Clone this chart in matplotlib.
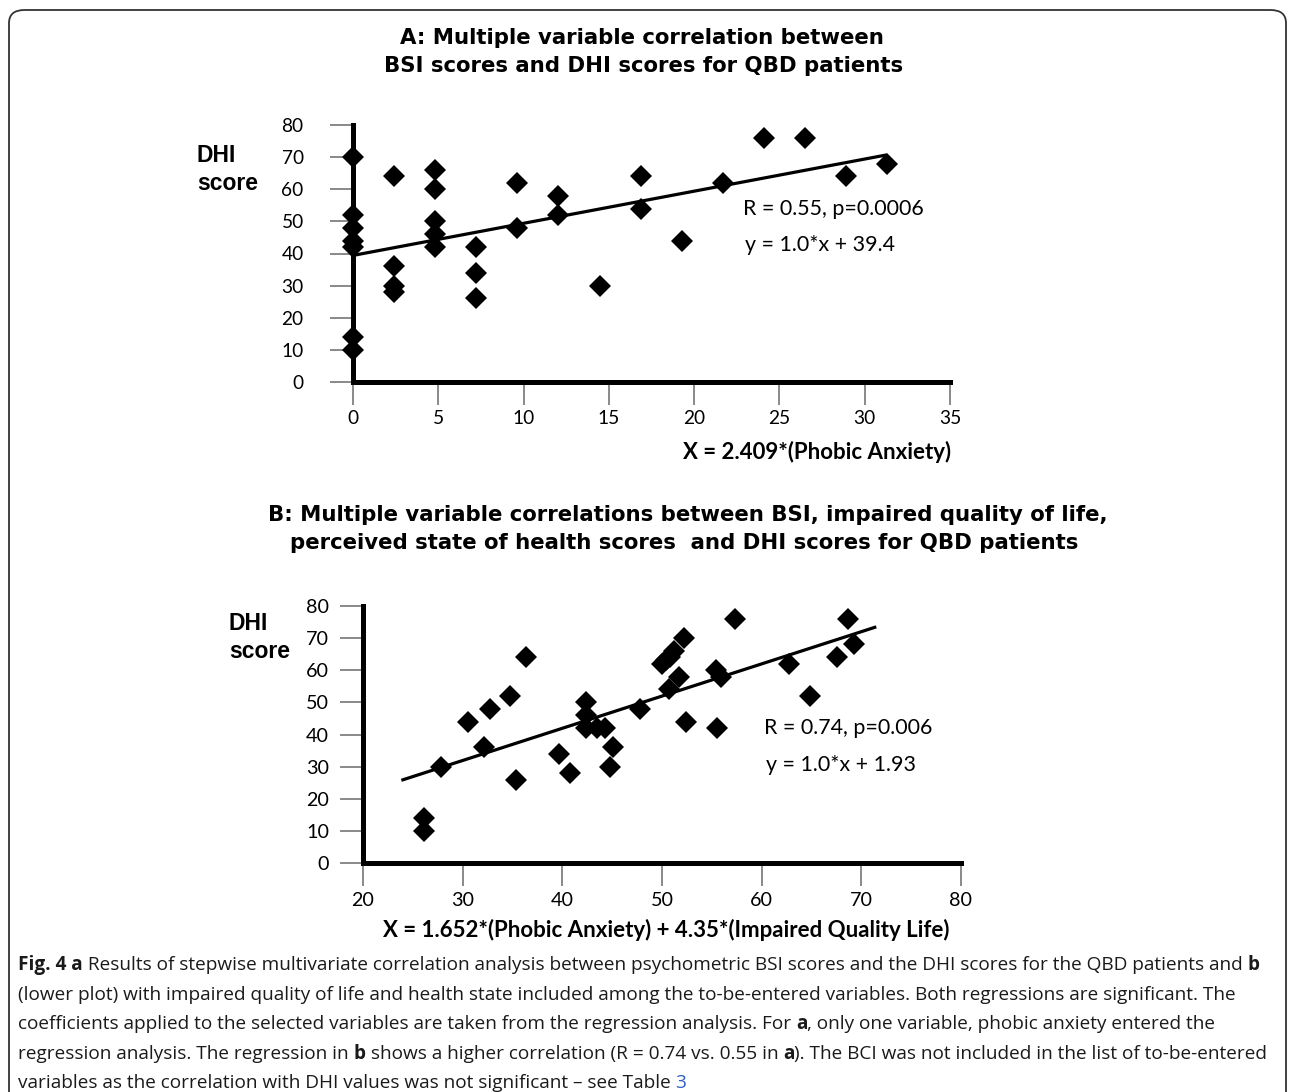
import matplotlib
matplotlib.use("Agg")
import matplotlib.pyplot as plt
from matplotlib.patches import FancyBboxPatch

W, H = 1290, 1092

# ---------------- data ----------------
# Panel A: X = 2.409*(Phobic Anxiety)
a_x = [0, 0, 0, 0, 0, 0, 0,
       2.4, 2.4, 2.4, 2.4,
       4.8, 4.8, 4.8, 4.8, 4.8,
       7.2, 7.2, 7.2,
       9.6, 9.6,
       12.0, 12.0,
       14.5,
       16.9, 16.9,
       19.3,
       21.7,
       24.1,
       26.5,
       28.9,
       31.3]
a_y = [70, 52, 48, 44, 42, 14, 10,
       64, 36, 30, 28,
       66, 60, 50, 46, 42,
       42, 34, 26,
       62, 48,
       58, 52,
       30,
       64, 54,
       44,
       62,
       76,
       76,
       64,
       68]
a_fit_slope, a_fit_intercept = 1.0, 39.4
a_fit_range = [0, 31.3]

# Panel B: X = 1.652*(Phobic Anxiety) + 4.35*(Impaired Quality Life)
b_x = [26.1, 26.1, 27.8, 30.5, 32.1, 32.7, 34.7, 35.4, 36.4, 39.7, 40.8,
       42.4, 42.4, 42.4, 43.5, 44.3, 45.1, 44.8, 47.8,
       50.0, 50.4, 50.8, 51.2, 52.2, 51.7, 50.7, 52.4,
       57.3, 55.4, 55.9, 55.5, 62.7, 64.8, 67.6, 68.7, 69.3]
b_y = [14, 10, 30, 44, 36, 48, 52, 26, 64, 34, 28,
       50, 46, 42, 42, 42, 36, 30, 48,
       62, 63, 64, 66, 70, 58, 54, 44,
       76, 60, 58, 42, 62, 52, 64, 76, 68]
b_fit_slope, b_fit_intercept = 1.0, 1.93
b_fit_range = [23.85, 71.5]

a_xticks = [0, 5, 10, 15, 20, 25, 30, 35]
b_xticks = [20, 30, 40, 50, 60, 70, 80]
yticks = [0, 10, 20, 30, 40, 50, 60, 70, 80]

title_a = ["A: Multiple variable correlation between",
           "BSI scores and DHI scores for QBD patients"]
title_b = ["B: Multiple variable correlations between BSI, impaired quality of life,",
           "perceived state of health scores  and DHI scores for QBD patients"]
xlabel_a = "X = 2.409*(Phobic Anxiety)"
xlabel_b = "X = 1.652*(Phobic Anxiety) + 4.35*(Impaired Quality Life)"
stats_a = ["R = 0.55, p=0.0006", "y = 1.0*x + 39.4"]
stats_b = ["R = 0.74, p=0.006", "y = 1.0*x + 1.93"]

# caption segments: (text, style) with style n=normal, b=bold, l=link
caption = [
    [("Fig. 4 a", "b"), (" Results of stepwise multivariate correlation analysis between psychometric BSI scores and the DHI scores for the QBD patients and ", "n"), ("b", "b")],
    [("(lower plot) with impaired quality of life and health state included among the to-be-entered variables. Both regressions are significant. The", "n")],
    [("coefficients applied to the selected variables are taken from the regression analysis. For ", "n"), ("a", "b"), (", only one variable, phobic anxiety entered the", "n")],
    [("regression analysis. The regression in ", "n"), ("b", "b"), (" shows a higher correlation (R = 0.74 vs. 0.55 in ", "n"), ("a", "b"), ("). The BCI was not included in the list of to-be-entered", "n")],
    [("variables as the correlation with DHI values was not significant – see Table ", "n"), ("3", "l")],
]

# ---------------- figure ----------------
fig = plt.figure(figsize=(W / 100, H / 100), dpi=100)


def fx(x):
    return x / W


def fy(y):
    return 1 - y / H


# rounded frame
frame = FancyBboxPatch((fx(9), fy(1130)), fx(1286 - 9), (1130 - 10) / H,
                       boxstyle="round,pad=0,rounding_size=0.012",
                       transform=fig.transFigure, fill=False,
                       edgecolor="#333333", linewidth=1.3)
fig.patches.append(frame)


def make_axes(rect, xlim, xticks, pad_y):
    ax = fig.add_axes(rect)
    ax.set_xlim(*xlim)
    ax.set_ylim(0, 80)
    for s in ("top", "right"):
        ax.spines[s].set_visible(False)
    for s in ("left", "bottom"):
        ax.spines[s].set_linewidth(3.6)
        ax.spines[s].set_color("black")
        ax.spines[s].set_zorder(2)
    ax.set_xticks(xticks)
    ax.set_yticks(yticks)
    ax.tick_params(axis="both", direction="out", length=16.5, width=1.3,
                   color="#808080", labelcolor="black")
    ax.tick_params(axis="y", pad=pad_y)
    ax.tick_params(axis="x", pad=4)
    ax.patch.set_alpha(0)
    return ax


ax_a = make_axes([fx(353), fy(382), 597 / W, 257 / H], (0, 35), a_xticks, 19)
ax_b = make_axes([fx(363), fy(863.3), 598 / W, 257.6 / H], (20, 80), b_xticks, 8)

for lab in ax_a.get_xticklabels() + ax_a.get_yticklabels():
    lab.set_fontfamily("Lato")
    lab.set_fontsize(13.8)
for lab in ax_b.get_xticklabels() + ax_b.get_yticklabels():
    lab.set_fontfamily("Lato")
    lab.set_fontsize(14.2)

for ax, xs, ys, slope, icpt, rng in (
        (ax_a, a_x, a_y, a_fit_slope, a_fit_intercept, a_fit_range),
        (ax_b, b_x, b_y, b_fit_slope, b_fit_intercept, b_fit_range)):
    ax.plot(rng, [slope * v + icpt for v in rng], color="black", lw=2.3,
            solid_capstyle="butt", zorder=3)
    ax.plot(xs, ys, linestyle="none", marker="D", ms=11, color="black",
            markeredgewidth=0, clip_on=False, zorder=4)

# titles
tfont = dict(family="DejaVu Sans", weight="bold", fontsize=15.3,
             ha="center", va="center", color="black")
fig.text(fx(642), fy(38), title_a[0], **tfont)
fig.text(fx(644), fy(66), title_a[1], **tfont)
fig.text(fx(688), fy(515), title_b[0], **tfont)
fig.text(fx(684), fy(543), title_b[1], **tfont)

# DHI score labels
lfont = dict(family="Liberation Sans", weight="bold", fontsize=16.5,
             ha="left", va="center", color="black")
fig.text(fx(197), fy(156), "DHI", **lfont)
fig.text(fx(197), fy(183), "score", **lfont)
fig.text(fx(229), fy(623), "DHI", **lfont)
fig.text(fx(229), fy(651), "score", **lfont)

# x labels
xfont = dict(family="Lato", weight="bold", fontsize=16, va="center",
             color="black")
fig.text(fx(951), fy(452), xlabel_a, ha="right", **xfont)
fig.text(fx(666), fy(930), xlabel_b, ha="center", **xfont)

# stats
sfont = dict(family="Lato", fontsize=15.4, ha="left", va="center",
             color="black")
fig.text(fx(743), fy(209), stats_a[0], **sfont)
fig.text(fx(745), fy(245), stats_a[1], **sfont)
fig.text(fx(764), fy(728), stats_b[0], **sfont)
fig.text(fx(766), fy(765), stats_b[1], **sfont)

# caption
cap_size = 13.7
cap_y = [965, 995, 1024, 1054, 1083]
fig.canvas.draw()
renderer = fig.canvas.get_renderer()


def seg_props(style):
    d = dict(family="Open Sans", fontsize=cap_size, ha="left",
             va="center", color="#1a1a1a")
    if style == "b":
        d["weight"] = "bold"
    if style == "l":
        d["color"] = "#2f5fc4"
    return d


def text_width(s, props):
    t1 = fig.text(0, 0, s + "|", **props)
    t2 = fig.text(0, 0, "|", **props)
    w = t1.get_window_extent(renderer).width - t2.get_window_extent(renderer).width
    t1.remove()
    t2.remove()
    return w


for segs, yy in zip(caption, cap_y):
    x = 18.0
    for s, style in segs:
        props = seg_props(style)
        fig.text(fx(x), fy(yy), s, **props)
        x += text_width(s, props)

fig.savefig("out.png", dpi=100)
